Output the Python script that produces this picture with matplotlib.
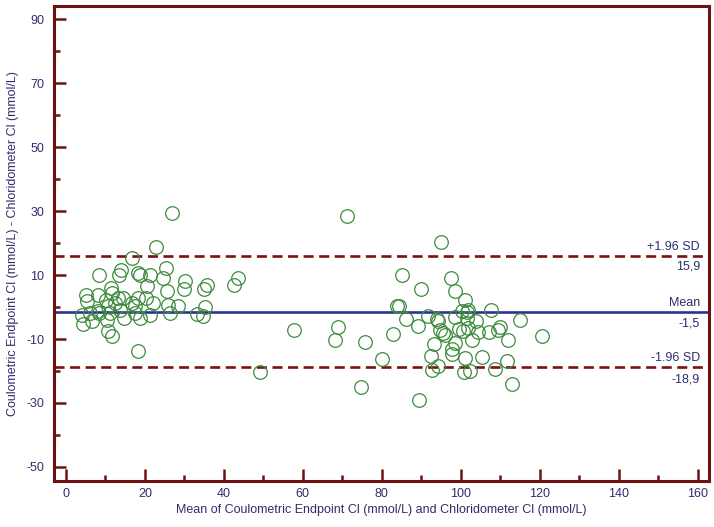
import numpy as np
import matplotlib.pyplot as plt
from matplotlib.ticker import MultipleLocator

# Bland-Altman data: mean of the two methods (x) and difference (y)
mean_vals = [
    26.8, 22.8, 16.7, 8.4, 13.9, 13.4, 18.2, 18.7, 21.3, 25.3, 24.6, 30.1, 29.9,
    35.7, 34.9, 43.5, 42.5, 5.1, 5.3, 8.1, 11.4, 11.6, 13.2, 20.5, 18.2, 25.6,
    22.0, 20.3, 10.1, 14.4, 12.4, 16.7, 17.5, 28.4, 25.8, 26.3, 35.2, 33.2, 34.7,
    21.3, 17.5, 18.7, 14.7, 11.1, 8.4, 6.1, 4.1, 4.3, 6.6, 10.4, 10.6, 11.6,
    18.2, 8.1, 10.6, 13.7,
    71.1, 57.7, 68.9, 68.1, 75.7, 82.8, 80.0, 49.1, 74.7,
    94.9, 85.1, 97.5, 89.9, 98.5, 101.0, 84.3, 100.3, 101.8, 107.6, 86.1, 91.6,
    93.9, 94.2, 98.5, 101.5, 103.8, 114.9, 89.1, 94.7, 95.4, 96.0, 100.5, 101.8,
    104.3, 107.1, 109.9, 109.4, 120.5, 93.2, 98.5, 97.7, 97.7, 102.8, 111.9,
    92.4, 101.0, 105.3, 111.6, 94.2, 92.7, 100.8, 102.3, 108.6, 112.9, 89.4,
    83.8, 101.5, 99.5,
]
diff_vals = [
    29.4, 18.9, 15.2, 10.0, 11.5, 10.0, 10.6, 10.0, 10.0, 12.2, 9.1, 8.1, 5.6,
    6.9, 5.6, 9.1, 6.9, 3.7, 1.9, 3.7, 5.9, 4.4, 2.8, 6.6, 2.8, 5.0,
    1.2, 2.8, 2.2, 2.8, 1.2, 1.2, 0.3, 0.3, 0.6, -1.9, 0.0, -2.2, -2.8,
    -2.5, -1.9, -3.4, -3.4, -1.9, -1.9, -1.9, -2.5, -5.3, -4.4, -4.1, -7.5, -9.1,
    -13.8, -1.2, 0.3, -0.9,
    28.4, -7.2, -6.3, -10.3, -10.9, -8.4, -16.3, -20.3, -25.0,
    20.3, 10.0, 9.1, 5.6, 5.0, 2.2, 0.3, -1.2, -0.9, -0.9, -3.8, -2.8,
    -3.8, -4.4, -3.1, -3.4, -4.4, -4.1, -5.9, -7.2, -8.1, -8.8, -7.5, -6.6,
    -7.8, -7.8, -6.3, -7.2, -9.1, -11.6, -11.3, -13.1, -14.7, -10.3, -10.3,
    -15.3, -15.9, -15.6, -16.9, -18.4, -19.7, -20.3, -20.0, -19.4, -24.1, -29.1,
    0.3, -1.6, -6.9,
]

mean_diff = -1.5
upper_sd = 15.9
lower_sd = -18.9

frame_col = '#6e1111'
text_col = '#2e2e6e'

plt.rcParams['font.family'] = ['Liberation Sans', 'DejaVu Sans']
plt.rcParams['axes.unicode_minus'] = False

fig = plt.figure(figsize=(7.14, 5.27), dpi=100)
ax = fig.add_axes([0.0756, 0.0873, 0.9174, 0.9017])

ax.axhline(mean_diff, color='#2e3192', lw=1.9, zorder=2)
ax.axhline(upper_sd, color='#7b1111', lw=1.9, ls=(0, (3.8, 2.1)), zorder=2)
ax.axhline(lower_sd, color='#7b1111', lw=1.9, ls=(0, (3.8, 2.1)), zorder=2)

ax.plot(mean_vals, diff_vals, 'o', mfc='none', mec='#3d8b3d', ms=9.8, mew=0.9, zorder=3)

ax.set_xlim(-3, 162.8)
ax.set_ylim(-54.4, 94.2)
ax.set_xticks(np.arange(0, 161, 20))
ax.set_yticks(np.arange(-50, 91, 20))
ax.xaxis.set_minor_locator(MultipleLocator(10))
ax.yaxis.set_minor_locator(MultipleLocator(10))

for s in ax.spines.values():
    s.set_color(frame_col)
    s.set_linewidth(2.2)

ax.tick_params(which='major', direction='in', length=8.5, width=1.8, color=frame_col,
               labelcolor=text_col, labelsize=9, pad=5)
ax.tick_params(which='minor', direction='in', length=4.3, width=1.8, color=frame_col)
ax.tick_params(axis='y', pad=7)

ax.set_xlabel('Mean of Coulometric Endpoint Cl (mmol/L) and Chloridometer Cl (mmol/L)',
              color=text_col, fontsize=9, labelpad=3)
ax.set_ylabel('Coulometric Endpoint Cl (mmol/L) - Chloridometer Cl (mmol/L)',
              color=text_col, fontsize=9, labelpad=5)

xr = 160.5
lab = dict(ha='right', color=text_col, fontsize=9)
ax.text(xr, upper_sd + 1.0, '+1.96 SD', va='bottom', **lab)
ax.text(xr, upper_sd - 1.5, '15,9', va='top', **lab)
ax.text(xr, mean_diff + 1.0, 'Mean', va='bottom', **lab)
ax.text(xr, mean_diff - 1.8, '-1,5', va='top', **lab)
ax.text(xr, lower_sd + 1.0, '-1.96 SD', va='bottom', **lab)
ax.text(xr, lower_sd - 1.8, '-18,9', va='top', **lab)

fig.savefig('out.png', dpi=100)
